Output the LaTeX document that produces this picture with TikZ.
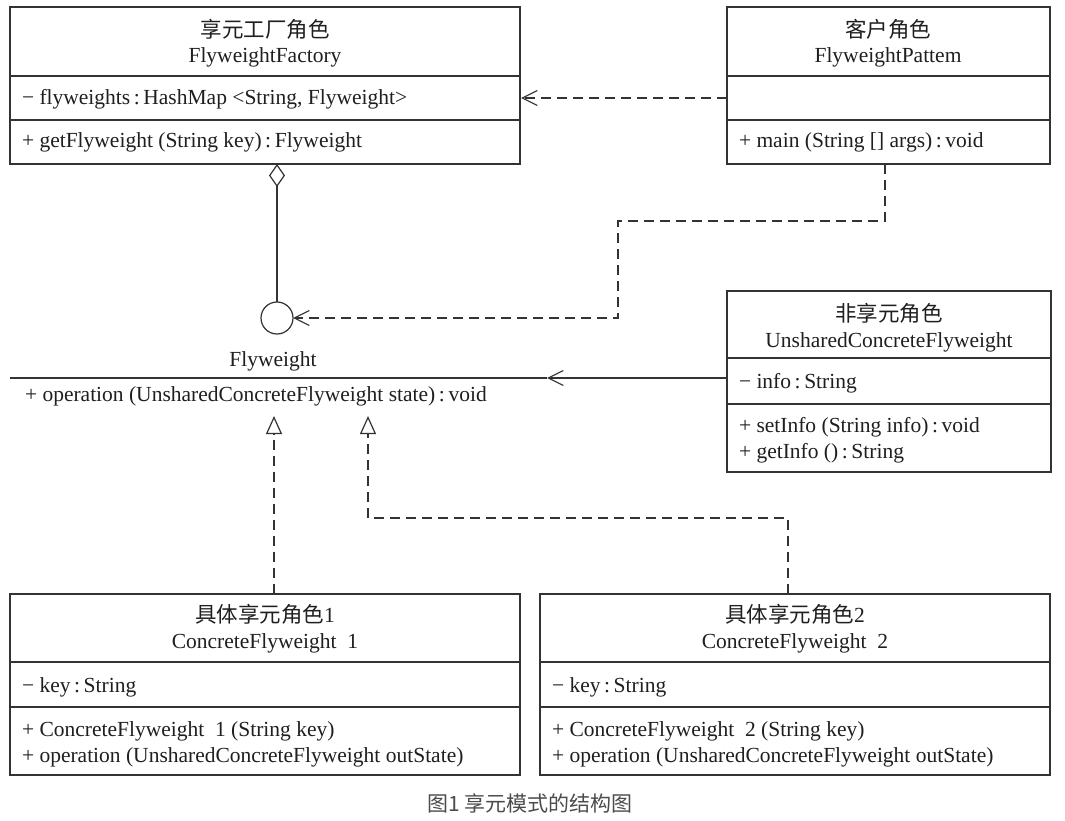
\documentclass[tikz,border=0pt]{standalone}
\usepackage{fontspec}
\setmainfont{Liberation Serif}
\newfontfamily\cjk{Noto Sans CJK SC}
\usetikzlibrary{arrows.meta}
\begin{document}
\begin{tikzpicture}[x=1pt,y=-1pt,
  every node/.style={font=\fontsize{21.5}{26}\selectfont, text=black!88, inner sep=0pt, outer sep=0pt},
  cls/.style={draw=black!80, line width=1.2pt, anchor=north west, inner sep=0pt},
  sep/.style={draw=black!80, line width=1.1pt},
  conn/.style={draw=black!80, line width=1.2pt},
  dsh/.style={conn, dash pattern=on 10pt off 6pt},
  barb/.style={-{Straight Barb[length=15pt,width=15pt,line width=1.2pt]}},
  tri/.style={-{Triangle[open,length=18pt,width=16pt,line width=1.2pt,fill=white]}},
  txt/.style={anchor=base west},
  ttl/.style={anchor=base}
]
\useasboundingbox (0,0) rectangle (1065,821);
\fill[white] (0,0) rectangle (1065,821);

% ---------- FlyweightFactory ----------
\node[cls, minimum width=510pt, minimum height=157pt] (fac) at (10,7) {};
\draw[sep] (10,76) -- (520,76);
\draw[sep] (10,120) -- (520,120);
\node[ttl] (facT1) at (265,38) {\cjk 享元工厂角色};
\node[ttl] (facT2) at (265,63) {FlyweightFactory};
\node[txt] (facA1) at (22,105) {− flyweights\,:\,HashMap <String, Flyweight>};
\node[txt] (facM1) at (22,148) {+ getFlyweight (String key)\,:\,Flyweight};

% ---------- Client ----------
\node[cls, minimum width=323pt, minimum height=157pt] (cli) at (727,7) {};
\draw[sep] (727,76) -- (1050,76);
\draw[sep] (727,120) -- (1050,120);
\node[ttl] (cliT1) at (888,38) {\cjk 客户角色};
\node[ttl] (cliT2) at (888,63) {FlyweightPattem};
\node[txt] (cliM1) at (739,148) {+ main (String [] args)\,:\,void};

% ---------- Unshared ----------
\node[cls, minimum width=324pt, minimum height=181pt] (un) at (727,291) {};
\draw[sep] (727,358) -- (1051,358);
\draw[sep] (727,404) -- (1051,404);
\node[ttl] (unT1) at (889,321) {\cjk 非享元角色};
\node[ttl] (unT2) at (889,347) {UnsharedConcreteFlyweight};
\node[txt] (unA1) at (739,388) {− info\,:\,String};
\node[txt] (unM1) at (739,432) {+ setInfo (String info)\,:\,void};
\node[txt] (unM2) at (739,458) {+ getInfo ()\,:\,String};

% ---------- ConcreteFlyweight 1 ----------
\node[cls, minimum width=510pt, minimum height=181pt] (cf1) at (10,594) {};
\draw[sep] (10,662) -- (520,662);
\draw[sep] (10,707) -- (520,707);
\node[ttl] (cf1T1) at (265,622) {{\cjk 具体享元角色}1};
\node[ttl] (cf1T2) at (265,648) {ConcreteFlyweight\ \ 1};
\node[txt] (cf1A1) at (22,692) {− key\,:\,String};
\node[txt] (cf1M1) at (22,736) {+ ConcreteFlyweight\ \ 1 (String key)};
\node[txt] (cf1M2) at (22,762) {+ operation (UnsharedConcreteFlyweight outState)};

% ---------- ConcreteFlyweight 2 ----------
\node[cls, minimum width=510pt, minimum height=181pt] (cf2) at (540,594) {};
\draw[sep] (540,662) -- (1050,662);
\draw[sep] (540,707) -- (1050,707);
\node[ttl] (cf2T1) at (795,622) {{\cjk 具体享元角色}2};
\node[ttl] (cf2T2) at (795,648) {ConcreteFlyweight\ \ 2};
\node[txt] (cf2A1) at (552,692) {− key\,:\,String};
\node[txt] (cf2M1) at (552,736) {+ ConcreteFlyweight\ \ 2 (String key)};
\node[txt] (cf2M2) at (552,762) {+ operation (UnsharedConcreteFlyweight outState)};

% ---------- Flyweight interface ----------
\node[circle, draw=black!80, line width=1.2pt, minimum size=32pt] (circ) at (277,318) {};
\node[ttl] (flyT) at (273,366) {Flyweight};
\coordinate (ifL) at (10,378);
\coordinate (ifR) at (547,378);
\draw[conn] (ifL) -- (ifR);
\node[txt] (flyM) at (25,401) {+ operation (UnsharedConcreteFlyweight state)\,:\,void};

% ---------- connectors ----------
\coordinate (facA) at (521,98);
\draw[dsh, barb] (cli.west |- facA) -- (facA);

\draw[conn, {Diamond[open,length=23pt,width=16pt,line width=1.2pt]}-] (fac.south -| circ) -- (circ.north);

\coordinate (cliB) at (885,164);
\coordinate (bendA) at (618,221);
\draw[dsh, barb] (cliB) -- (cliB |- bendA) -- (bendA) -- (bendA |- circ.east) -- (circ.east);

\draw[conn, barb] (un.west |- ifR) -- (ifR);

\coordinate (r1) at (274,416);
\draw[dsh, tri] (r1 |- cf1.north) -- (r1);

\coordinate (r2) at (368,416);
\coordinate (k2) at (788,518);
\draw[dsh, tri] (k2 |- cf2.north) -- (k2) -- (r2 |- k2) -- (r2);

% ---------- caption ----------
\node[font=\cjk\fontsize{21}{24}\selectfont, text=black!70] (cap) at (530,803) {图1 享元模式的结构图};
\end{tikzpicture}
\end{document}
